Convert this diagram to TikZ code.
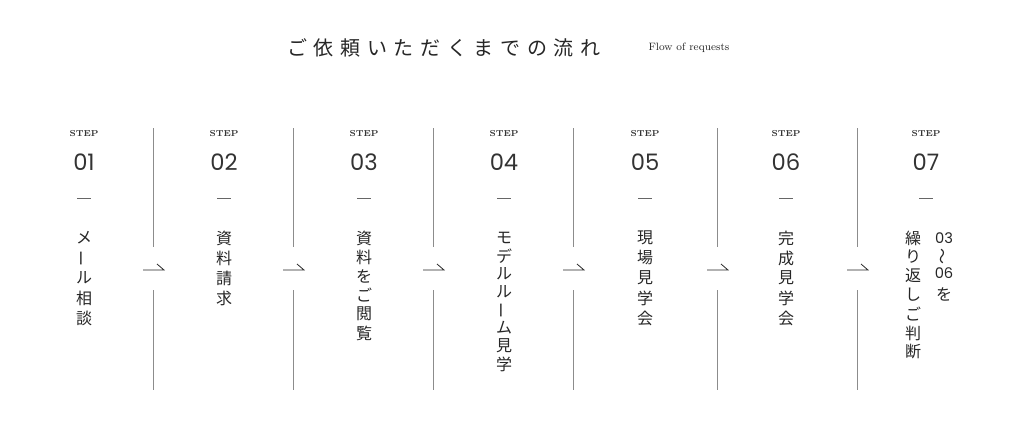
\documentclass[tikz,border=0pt]{standalone}
\usepackage{fontspec}
\newfontfamily\jp{Noto Sans CJK JP}
\newfontfamily\num{Poppins}
\tikzset{
  steplabel/.style={font=\bfseries\fontsize{6.5}{7}\selectfont, text=black!80},
  stepnum/.style={font=\num\fontsize{17}{18}\selectfont, text=black!80},
  vchar/.style={font=\jp\fontsize{12}{12}\selectfont, text=black!85, inner sep=0pt},
  divider/.style={draw=black!45, line width=0.5pt},
}
\newcommand{\vbar}{\rotatebox{90}{ー}}
\begin{document}
\begin{tikzpicture}[x=0.75pt,y=-0.75pt]
  \useasboundingbox (0,0) rectangle (1024,440);

  \node[font=\jp\fontsize{15}{15}\selectfont, text=black!85] (title) at (444,48)
    {ご\hspace{5pt}依\hspace{5pt}頼\hspace{5pt}い\hspace{5pt}た\hspace{5pt}だ\hspace{5pt}く\hspace{5pt}ま\hspace{5pt}で\hspace{5pt}の\hspace{5pt}流\hspace{5pt}れ};
  \node[font=\fontsize{8}{9}\selectfont, text=black!85] (subtitle) at (689,48) {Flow of requests};

  % step headers
  \foreach \x [count=\i] in {84,224,364,504,645,786,926} {
    \node[steplabel] (step\i) at (\x,134) {STEP};
    \node[stepnum] (num\i) at (\x,162) {0\i};
    \draw[black!60, line width=0.5pt] (\x-7,198) -- (\x+7,198);
  }

  % dividers and arrows
  \foreach \x [count=\i] in {153,293,433,573,717,857} {
    \coordinate (top\i) at (\x,128);
    \coordinate (gapA\i) at (\x,247);
    \coordinate (gapB\i) at (\x,290);
    \coordinate (bot\i) at (\x,390);
    \draw[divider] (top\i) -- (gapA\i);
    \draw[divider] (gapB\i) -- (bot\i);
    \coordinate (arrA\i) at (\x-10,270);
    \coordinate (arrB\i) at (\x+11,270);
    \draw[black!85, line width=0.6pt] (arrA\i) -- (arrB\i) -- ++(-7,-6);
  }

  % vertical texts
  \foreach \c [count=\i] in {メ,\vbar,ル,相,談}
    \node[vchar] at (84,{238+(\i-1)*20}) {\c};
  \foreach \c [count=\i] in {資,料,請,求}
    \node[vchar] at (224,{238+(\i-1)*20}) {\c};
  \foreach \c [count=\i] in {資,料,を,ご,閲,覧}
    \node[vchar] at (364,{238+(\i-1)*19}) {\c};
  \foreach \c [count=\i] in {モ,デ,ル,ル,\vbar,ム,見,学}
    \node[vchar] at (504,{238+(\i-1)*18}) {\c};
  \foreach \c [count=\i] in {現,場,見,学,会}
    \node[vchar] at (645,{238+(\i-1)*20}) {\c};
  \foreach \c [count=\i] in {完,成,見,学,会}
    \node[vchar] at (786,{238+(\i-1)*20}) {\c};
  \foreach \c [count=\i] in {繰,り,返,し,ご,判,断}
    \node[vchar] at (913,{238+(\i-1)*19}) {\c};
  \node[vchar, font=\num\fontsize{11}{11}\selectfont] (from) at (944,238) {03};
  \node[vchar] (tilde) at (944,256) {\rotatebox{90}{～}};
  \node[vchar, font=\num\fontsize{11}{11}\selectfont] (to) at (944,273) {06};
  \node[vchar] (wo) at (944,294) {を};
\end{tikzpicture}
\end{document}
